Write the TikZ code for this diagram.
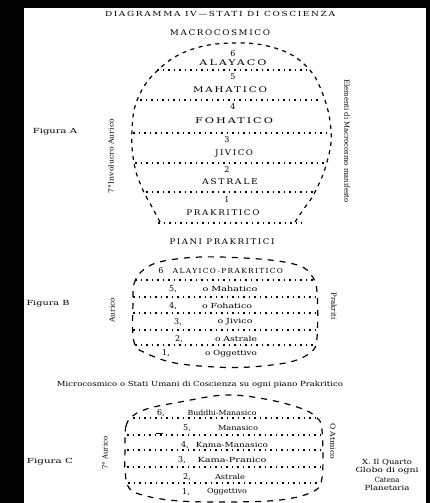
\documentclass[tikz,border=0pt]{standalone}
\usepackage{fontspec}
\setmainfont{DejaVu Serif}
\usepackage{graphicx}
\newcommand\fw[2]{\resizebox{#1pt}{\height}{#2}}
\newcommand\sw[2]{\resizebox{#1pt}{\height}{\addfontfeature{LetterSpace=18}#2}}
\tikzset{
  txt/.style={inner sep=0pt, font=\fontsize{7}{8}\selectfont},
  captxt/.style={inner sep=0pt, font=\fontsize{7.8}{8}\selectfont},
  numtxt/.style={inner sep=0pt, font=\fontsize{8}{9}\selectfont},
  rtxt/.style={txt, rotate=90},
  ltxt/.style={txt, rotate=-90},
  outl/.style={line width=1.2pt, dash pattern=on 4pt off 4.5pt},
  outlb/.style={line width=1.2pt, dash pattern=on 6pt off 6pt},
  dotl/.style={line width=1.5pt, dash pattern=on 1.5pt off 4pt}
}
\begin{document}
\begin{tikzpicture}[x=1pt,y=-1pt]
\useasboundingbox (0,0) rectangle (430,503);
\fill[black] (0,0) rectangle (430,503);
\fill[white] (24,8) rectangle (426,503);
% titles
\node[txt] (title) at (220,14) {\sw{230}{DIAGRAMMA IV—STATI DI COSCIENZA}};
\node[captxt] (macro) at (220,33) {\sw{100}{MACROCOSMICO}};
% Figure A
\draw[outl] plot[smooth, tension=0.7] coordinates {(160,222) (152,207) (142,188) (134,163) (132,130) (138,98) (158,70) (190,50) (233,43) (275,48) (305,65) (322,92) (331,130) (327,162) (315,192) (303,210) (295,222)};
\draw[dotl] (157,70) -- (310,70);
\draw[dotl] (140,100) -- (320,100);
\draw[dotl] (133,133) -- (327,133);
\draw[dotl] (135,163) -- (325,163);
\draw[dotl] (146,192) -- (313,192);
\draw[dotl] (158,223) -- (302,223);
\node[numtxt] (a6) at (233,54) {6};
\node[captxt] (ala) at (233,62.5) {\sw{67}{ALAYACO}};
\node[numtxt] (a5) at (233,77) {5};
\node[captxt] (mah) at (230,90) {\sw{74}{MAHATICO}};
\node[numtxt] (a4) at (233,107) {4};
\node[captxt] (foh) at (234,121) {\sw{78}{FOHATICO}};
\node[numtxt] (a3) at (227,140) {3};
\node[captxt] (jiv) at (234,153) {\sw{38}{JIVICO}};
\node[numtxt] (a2) at (227,170) {2};
\node[captxt] (ast) at (230,182) {\sw{56}{ASTRALE}};
\node[numtxt] (a1) at (227,200) {1};
\node[captxt] (pra) at (223,213) {\sw{73}{PRAKRITICO}};
\node[txt] (figA) at (55,132) {\fw{44}{Figura A}};
\node[rtxt] (invA) at (111,156) {\fw{74}{7°Involucro Aurico}};
\node[ltxt] (elem) at (347,141) {\fw{123}{Elementi di Macrocosmo manifesto}};
\node[captxt] (piani) at (222,242) {\sw{105}{PIANI PRAKRITICI}};
% Figure B
\draw[outlb] plot[smooth cycle, tension=0.6] coordinates {(133,300) (134,284) (141,272) (156,263) (185,258) (220,257) (270,260) (300,266) (312,276) (317,292) (317,338) (311,352) (290,362) (250,367) (215,367) (175,363) (148,354) (134,342)};
\draw[dotl] (135,280) -- (313,280);
\draw[dotl] (133,297) -- (315,297);
\draw[dotl] (133,313) -- (315,313);
\draw[dotl] (133,330) -- (315,330);
\draw[dotl] (135,345) -- (313,345);
\node[numtxt] (b6) at (161,271) {6};
\node[txt] (alp) at (228,271) {\sw{110}{ALAYICO-PRAKRITICO}};
\node[numtxt] (b5) at (173,289) {5,};
\node[txt] (bmah) at (230,289) {\fw{55}{o Mahatico}};
\node[numtxt] (b4) at (173,306) {4,};
\node[txt] (bfoh) at (227,306) {\fw{50}{o Fohatico}};
\node[numtxt] (b3) at (178,322) {3,};
\node[txt] (bjiv) at (235,322) {\fw{35}{o Jivico}};
\node[numtxt] (b2) at (179,339) {2,};
\node[txt] (bast) at (236,339) {\fw{42}{o Astrale}};
\node[numtxt] (b1) at (166,353) {1,};
\node[txt] (bogg) at (231,354) {\fw{52}{o Oggettivo}};
\node[txt] (figB) at (48,304) {\fw{43}{Figura B}};
\node[rtxt] (aurB) at (112,310) {\fw{25}{Aurico}};
\node[ltxt] (prak) at (334,306) {\fw{27}{Prakriti}};
\node[txt] (micro) at (200,385) {\fw{286}{Microcosmico o Stati Umani di Coscienza su ogni piano Prakritico}};
% Figure C
\draw[outlb] plot[smooth cycle, tension=0.6] coordinates {(125,450) (126,426) (134,415) (150,408) (180,402) (225,395) (265,399) (300,408) (316,417) (322,430) (322,478) (312,492) (280,500) (230,502) (180,501) (146,496) (129,488) (125,470)};
\draw[dotl] (133,418) -- (320,418);
\draw[dotl] (127,435) -- (322,435);
\draw[dotl] (127,450) -- (322,450);
\draw[dotl] (127,467) -- (322,467);
\draw[dotl] (128,483) -- (320,483);
\draw[line width=1.2pt] (156,433.5) -- (163,433.5);
\node[numtxt] (c6) at (161,413) {6,};
\node[txt] (cbud) at (222,413) {\fw{69}{Buddhi-Manasico}};
\node[numtxt] (c5) at (187,428) {5,};
\node[txt] (cman) at (238,428) {\fw{40}{Manasico}};
\node[numtxt] (c4) at (185,445) {4,};
\node[txt] (ckm) at (232,445) {\fw{72}{Kama-Manasico}};
\node[numtxt] (c3) at (182,460) {3,};
\node[txt] (ckp) at (232,460) {\fw{69}{Kama-Pranico}};
\node[numtxt] (c2) at (187,477) {2,};
\node[txt] (cast) at (230,477) {\fw{30}{Astrale}};
\node[numtxt] (c1) at (186,492) {1,};
\node[txt] (cogg) at (227,492) {\fw{40}{Oggettivo}};
\node[txt] (figC) at (50,462) {\fw{46}{Figura C}};
\node[rtxt] (aurC) at (105,453) {\fw{33}{7° Aurico}};
\node[ltxt] (atm) at (333,441) {\fw{36}{O Atmico}};
\node[txt] (q1) at (387,462) {\fw{50}{X. Il Quarto}};
\node[txt] (q2) at (387,471) {\fw{63}{Globo di ogni}};
\node[txt] (q3) at (387,479.5) {\fw{25}{Catena}};
\node[txt] (q4) at (387,488) {\fw{45}{Planetaria}};
\end{tikzpicture}
\end{document}
